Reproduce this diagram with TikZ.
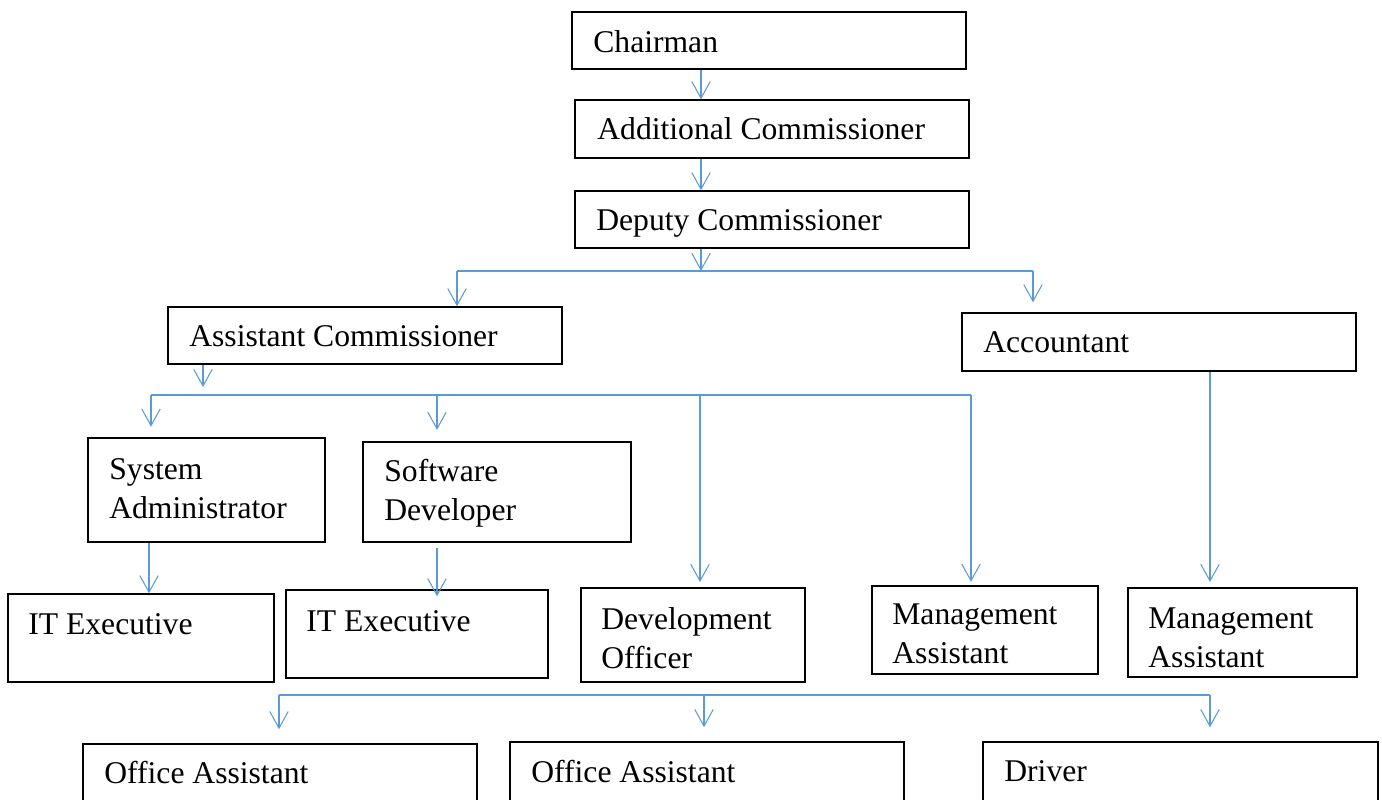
\documentclass[tikz,border=0pt]{standalone}
\usepackage{fontspec}
\setmainfont{Liberation Serif}
\usetikzlibrary{arrows.meta,fit}
\definecolor{linkblue}{RGB}{91,155,213}
\tikzset{
    orgbox/.style={draw=black, line width=0.8pt, rectangle, inner sep=0pt},
    post/.style={anchor=base west, inner sep=0pt, align=left, font=\fontsize{18}{22.2}\selectfont},
    link/.style={draw=linkblue, line width=0.6pt},
    flow/.style={link, -{Straight Barb[length=9.5pt,width=10.5pt]}}
}

\begin{document}
\begin{tikzpicture}[x=0.02cm, y=-0.02cm]
    \useasboundingbox (0,0) rectangle (1382,799);
    \clip (0,0) rectangle (1382,799);

    % Draw boxes
    \foreach \nm/\xa/\ya/\xb/\yb in {chair/572/12/966/69, addl/575/100/969/158, dep/575/191/969/248,
        asst/168/307/562/364, acct/962/313/1356/371, sysad/88/438/325/542, softdev/363/442/631/542,
        itex1/8/594/274/682, itex2/286/590/548/678, devoff/581/588/805/682, mgmt1/872/586/1098/674,
        mgmt2/1128/588/1357/677, office1/83/744/477/830, office2/510/742/904/830, driver/983/742/1378/830} {
        \node[orgbox, fit={(\xa,\ya) (\xb,\yb)}] (\nm) {};
    }

    % Draw texts (base of the last line)
    \foreach \nm/\x/\y/\txt in {chair/593/52/Chairman, addl/597/139/Additional Commissioner,
        dep/596/230/Deputy Commissioner, asst/189/346/Assistant Commissioner, acct/983/352/Accountant,
        sysad/109/518/{System\\Administrator}, softdev/384/520/{Software\\Developer},
        itex1/28/634/IT Executive, itex2/306/631/IT Executive, devoff/601/668/{Development\\Officer},
        mgmt1/892/663/{Management\\Assistant}, mgmt2/1148/667/{Management\\Assistant},
        office1/104/783/Office Assistant, office2/531/782/Office Assistant, driver/1004/781/Driver} {
        \node[post] (\nm-txt) at (\x,\y) {\txt};
    }

    % Draw connectors
    \coordinate (spine) at (701,0);
    \coordinate (splitA) at (701,271);
    \coordinate (busAl) at (457,271);
    \coordinate (busAr) at (1033,271);
    \draw[flow] (spine |- chair.south) -- (spine |- addl.north);
    \draw[flow] (spine |- addl.south) -- (spine |- dep.north);
    \draw[flow] (spine |- dep.south) -- (splitA);
    \draw[link] (busAl) -- (busAr);
    \draw[flow] (busAl) -- (busAl |- asst.north);
    \draw[flow, shorten >=5.7pt] (busAr) -- (busAr |- acct.north);

    \coordinate (splitB) at (203,395);
    \coordinate (busBl) at (151,395);
    \coordinate (busBr) at (971,395);
    \coordinate (colSoft) at (437,395);
    \coordinate (colDev) at (700,395);
    \draw[flow, shorten >=4.5pt] (splitB |- asst.south) -- (splitB);
    \draw[link] (busBl) -- (busBr);
    \draw[flow, shorten >=6pt] (busBl) -- (busBl |- sysad.north);
    \draw[flow, shorten >=6.5pt] (colSoft) -- (colSoft |- softdev.north);
    \draw[flow, shorten >=3pt] (colDev) -- (colDev |- devoff.north);
    \draw[flow, shorten >=2pt] (busBr) -- (busBr |- mgmt1.north);

    \coordinate (colIt) at (149,0);
    \coordinate (colAcct) at (1210,0);
    \draw[flow] (colIt |- sysad.south) -- (colIt |- itex1.north);
    \draw[flow, shorten <=3pt, shorten >=-4pt] (colSoft |- softdev.south) -- (colSoft |- itex2.north);
    \draw[flow, shorten >=3pt] (colAcct |- acct.south) -- (colAcct |- mgmt2.north);

    \coordinate (busCl) at (279,695);
    \coordinate (busCr) at (1210,695);
    \coordinate (colOff) at (704,695);
    \draw[link] (busCl) -- (busCr);
    \draw[flow, shorten >=8pt] (busCl) -- (busCl |- office1.north);
    \draw[flow, shorten >=8pt] (colOff) -- (colOff |- office2.north);
    \draw[flow, shorten >=8pt] (busCr) -- (busCr |- driver.north);
\end{tikzpicture}
\end{document}
